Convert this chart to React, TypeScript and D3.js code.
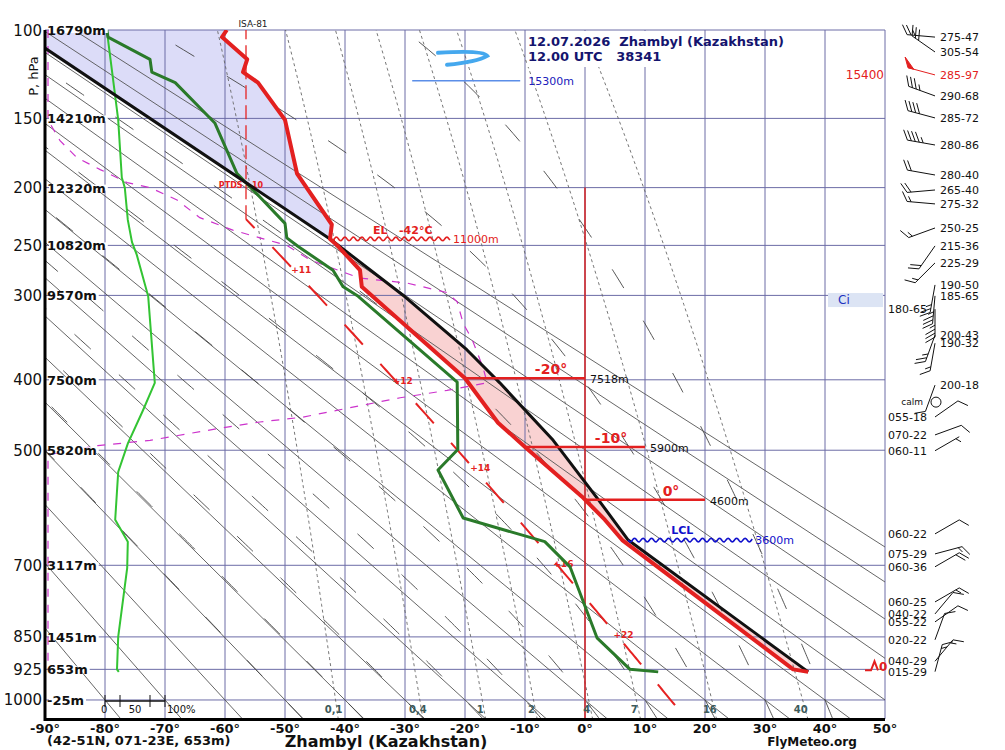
import React from "react";
import * as d3 from "d3";

const FONT = "'DejaVu Sans', Verdana, sans-serif";

// Standard pressure levels and their geopotential heights
const levelP = [100, 150, 200, 250, 300, 400, 500, 700, 850, 925, 1000];
const levelH = ["16790m", "14210m", "12320m", "10820m", "9570m", "7500m", "5820m", "3117m", "1451m", "653m", "-25m"];
const tempTicks = [-90, -80, -70, -60, -50, -40, -30, -20, -10, 0, 10, 20, 30, 40, 50];

// Air temperature, surface upwards (hPa, °C)
const tempP = [931, 925, 652, 615, 577, 495, 459, 398, 291, 274, 250, 244, 231, 189, 151, 128, 122, 115, 103.5, 100];
const tempT = [37.2, 34.7, 6.2, 3.3, -0.3, -10.0, -14.5, -20.0, -37.2, -37.5, -41.3, -42.5, -42.2, -48.0, -50.0, -54.5, -57.0, -56.3, -60.5, -59.7];

// Dew point
const dewP = [931, 925, 852, 703, 655, 612, 531, 499, 403, 301, 291, 274, 251, 243, 230, 202, 189, 153, 128, 122, 115, 103.5, 100];
const dewT = [12.2, 7.5, 2.0, -2.5, -6.7, -20.3, -24.5, -21.2, -21.3, -37.8, -40.3, -42.0, -47.8, -49.7, -50.0, -55.3, -58.0, -61.7, -68.3, -72.2, -72.5, -79.5, -79.7];

// Lifted surface parcel
const parcelP = [931, 652, 577, 485, 404, 362, 301.5, 244, 100];
const parcelT = [37.2, 7.2, 2.0, -5.3, -14.2, -19.7, -30.0, -42.5, -94.5];

// Relative humidity (%)
const rhP = [931, 925, 850, 705, 655, 615, 534, 490, 442, 404, 301, 259, 247, 227, 200, 192, 151, 136, 100];
const rhV = [23, 20, 22, 37, 38, 17, 22, 38, 63, 83, 72, 53, 45, 38, 33, 28, 22, 17, 3];

// Contrail threshold curve
const contrailP = [100, 151, 165, 177, 186, 196, 200, 210, 225, 236, 243, 250, 264, 282, 287, 297, 307, 331, 350, 384, 404, 414, 424, 437, 451, 458, 467, 485, 493, 507, 925];
const contrailT = [-89.5, -89.5, -87.5, -84.7, -80.8, -76.3, -72.5, -68.0, -64.2, -58.7, -54.2, -49.7, -45.8, -37.5, -29.7, -23.0, -21.3, -20.3, -18.8, -17.0, -16.3, -23.0, -30.8, -38.7, -47.0, -54.2, -60.8, -72.5, -81.2, -89.5, -89.5];

// Winds: pressure, direction (deg), speed (km/h)
const windP = [103.5, 111.1, 123.6, 135.9, 149.7, 168, 190.1, 201.9, 213.3, 234.1, 250.5, 266.8, 289, 300.5, 314.9, 344.6, 354.1, 407, 450.8, 476.9, 500.8, 640.6, 678, 702.9, 774.1, 799.6, 816.8, 856.5, 905.9, 930.5];
const windDir = [275, 305, 285, 290, 285, 280, 280, 265, 275, 250, 215, 225, 190, 185, 180, 200, 190, 200, 55, 70, 60, 60, 75, 60, 60, 40, 55, 20, 40, 15];
const windKmh = [47, 54, 97, 68, 72, 86, 40, 40, 32, 25, 36, 29, 50, 65, 65, 43, 32, 18, 18, 22, 11, 22, 29, 36, 25, 22, 22, 22, 29, 29];
const calmP = 430;

// Mixing-ratio lines (g/kg)
const mixW = [0.1, 0.4, 1, 2, 4, 7, 16, 40];
const mixLabels = ["0,1", "0,4", "1", "2", "4", "7", "16", "40"];

// Deviation from the standard atmosphere
const isaDevP = [273, 400, 526, 695, 843];
const isaDevText = ["+11", "+12", "+14", "+16", "+22"];

// Isotherm heights
const isoT = [-20, -10, 0];
const isoH = ["7518m", "5900m", "4600m"];

const lclH = "3600m";
const elP = 244;
const elH = "11000m";
const tropoP = 127;
const tropoT = [-28.8, -10.8];
const tropoH = "15300m";
const maxWindH = "15400";
const cloudP = 305;

const K = 0.286;
const x = d3.scaleLinear().domain([-90, 50]).range([45, 885]);
const y = d3.scalePow().exponent(K).domain([100, 1050]).range([30, 719.5]);
const rhX = d3.scaleLinear().domain([0, 100]).range([105, 165]);

const line = d3
  .line<[number, number]>()
  .x((d) => x(d[1]))
  .y((d) => y(d[0]));

const zip = (p: number[], t: number[]) => p.map((v, i) => [v, t[i]] as [number, number]);

function dTdp(p: number, T: number) {
  const es = 6.112 * Math.exp((17.67 * (T - 273.15)) / (T - 29.65));
  const rs = (0.622 * es) / (p - es);
  const num = 287.04 * T + 2.501e6 * rs;
  const den = 1005.7 + (2.501e6 * 2.501e6 * rs * 0.622) / (287.04 * T * T);
  return num / (den * p);
}

function moistAdiabat(t0: number) {
  const pts: [number, number][] = [];
  let p = 1050;
  let T = t0 + 273.15;
  // step from 1000 down to 1050 first
  let pp = 1000;
  let TT = T;
  while (pp < 1050) {
    const dp = 5;
    const k1 = dTdp(pp, TT);
    const k2 = dTdp(pp + dp, TT + k1 * dp);
    TT += ((k1 + k2) / 2) * dp;
    pp += dp;
  }
  p = 1050;
  T = TT;
  pts.push([p, T - 273.15]);
  while (p > 100) {
    const dp = -5;
    const k1 = dTdp(p, T);
    const k2 = dTdp(p + dp, T + k1 * dp);
    T += ((k1 + k2) / 2) * dp;
    p += dp;
    pts.push([p, T - 273.15]);
  }
  return pts;
}

function mixingLine(w: number) {
  const pts: [number, number][] = [];
  for (let p = 1050; p >= 100; p -= 10) {
    const e = (w * p) / (622 + w);
    const l = Math.log(e / 6.112);
    pts.push([p, (243.5 * l) / (17.67 - l)]);
  }
  return pts;
}

const isaT = (p: number) => Math.max(-56.5, 288.15 * Math.pow(p / 1013.25, 0.190263) - 273.15);

function wave(x1: number, x2: number, yc: number) {
  let d = "";
  for (let xx = x1; xx <= x2; xx += 1) {
    const yy = yc + 1.8 * Math.sin(((xx - x1) / 8.5) * 2 * Math.PI);
    d += (xx === x1 ? "M" : "L") + xx.toFixed(1) + "," + yy.toFixed(1);
  }
  return d;
}

function crossing(P: number[], T: number[], t: number) {
  for (let i = 0; i < P.length - 1; i++) {
    const a = T[i] - t;
    const b = T[i + 1] - t;
    if (a === 0) return P[i];
    if (a * b < 0) {
      const f = a / (a - b);
      const ka = Math.pow(P[i], K);
      const kb = Math.pow(P[i + 1], K);
      return Math.pow(ka + f * (kb - ka), 1 / K);
    }
  }
  return P[P.length - 1];
}

function barb(bx: number, by: number, dir: number, kmh: number) {
  const kt = Math.round(kmh / 1.852 / 5) * 5;
  const a = (dir * Math.PI) / 180;
  const dx = Math.sin(a);
  const dy = -Math.cos(a);
  const L = 28;
  const FL = 11;
  const SP = 4;
  const tx = bx + L * dx;
  const ty = by + L * dy;
  const c = Math.cos(Math.PI / 3);
  const s = Math.sin(Math.PI / 3);
  const fx = dx * c - dy * s;
  const fy = dx * s + dy * c;
  let lines = `M${bx},${by}L${tx},${ty}`;
  let flags = "";
  let rem = kt;
  let pos = 0;
  while (rem >= 50) {
    const p1x = tx - pos * dx;
    const p1y = ty - pos * dy;
    const p3x = tx - (pos + 6) * dx;
    const p3y = ty - (pos + 6) * dy;
    flags += `M${p1x},${p1y}L${p1x + fx * FL},${p1y + fy * FL}L${p3x},${p3y}Z`;
    pos += 8;
    rem -= 50;
  }
  while (rem >= 10) {
    const px = tx - pos * dx;
    const py = ty - pos * dy;
    lines += `M${px},${py}L${px + fx * FL},${py + fy * FL}`;
    pos += SP;
    rem -= 10;
  }
  if (rem >= 5) {
    if (pos === 0) pos = SP;
    const px = tx - pos * dx;
    const py = ty - pos * dy;
    lines += `M${px},${py}L${px + fx * FL * 0.55},${py + fy * FL * 0.55}`;
  }
  return { lines, flags };
}

const pad = (n: number, w: number) => String(n).padStart(w, "0");

const boldW: Record<string, number> = { "-": 0.415, m: 1.042 };
const textW = (s: string, size: number) =>
  s.split("").reduce((acc, ch) => acc + (boldW[ch] ?? 0.696), 0) * size;

export default function App() {
  const dryT0 = d3.range(-80, 91, 10);
  const moistT0 = d3.range(-50, 41, 10);

  const tempPts = zip(tempP, tempT);
  const parcelPts = zip(parcelP, parcelT);

  const pinkPoly = [
    ...parcelPts.filter((d) => d[0] >= elP),
    ...tempPts.filter((d) => d[0] >= elP).reverse(),
  ];
  const bluePoly = [
    ...parcelPts.filter((d) => d[0] <= elP),
    ...tempPts.filter((d) => d[0] <= elP).reverse(),
  ];

  const isaSlant: [number, number][] = [];
  for (let p = 1013.25; p >= 226.32; p -= 5) isaSlant.push([p, isaT(p)]);
  isaSlant.push([226.32, -56.5]);
  const isaTop: [number, number][] = [
    [226.32, -56.5],
    [100, -56.5],
  ];

  const maxIdx = windKmh.indexOf(Math.max(...windKmh));
  const lclP = parcelP[1];
  const lclX = x(parcelT[1]);

  const gridColor = "#6c6ca6";

  return (
    <svg
      width={1005}
      height={750}
      style={{ position: "absolute", left: 0, top: 0, display: "block" }}
      fontFamily={FONT}
    >
      <defs>
        <clipPath id="plot">
          <rect x={45} y={30} width={840} height={689.5} />
        </clipPath>
      </defs>
      <rect width={1005} height={750} fill="#fff" />

      <g clipPath="url(#plot)">
        <path d={line(pinkPoly) + "Z"} fill="#f9d2d2" />
        <path d={line(bluePoly) + "Z"} fill="#dcdcf8" />
      </g>

      {/* grid */}
      {tempTicks.slice(1).map((t) => (
        <line key={"v" + t} x1={x(t)} x2={x(t)} y1={30} y2={719} stroke={gridColor} strokeWidth={1} />
      ))}
      {levelP.map((p) => (
        <line key={"h" + p} x1={45} x2={885} y1={y(p)} y2={y(p)} stroke={gridColor} strokeWidth={1} />
      ))}

      <g clipPath="url(#plot)">
        {/* dry adiabats */}
        {dryT0.map((t0) => {
          const th = t0 + 273.15;
          const pts: [number, number][] = [100, 1050].map((p) => [p, th * Math.pow(p / 1000, K) - 273.15]);
          return <path key={"d" + t0} d={line(pts) || ""} stroke="#555" strokeWidth={0.9} fill="none" />;
        })}
        {/* saturated adiabats */}
        {moistT0.map((t0) => (
          <path
            key={"m" + t0}
            d={line(moistAdiabat(t0)) || ""}
            stroke="#444"
            strokeWidth={0.9}
            fill="none"
            strokeDasharray="22,38"
          />
        ))}
        {/* mixing ratio */}
        {mixW.map((w) => (
          <path
            key={"w" + w}
            d={line(mixingLine(w)) || ""}
            stroke="#666"
            strokeWidth={0.9}
            fill="none"
            strokeDasharray="3,3"
          />
        ))}

        {/* standard atmosphere */}
        <path d={line(isaSlant) || ""} stroke="#e52222" strokeWidth={2} fill="none" strokeDasharray="27,26" />
        <path d={line(isaTop) || ""} stroke="#e52222" strokeWidth={1.3} fill="none" strokeDasharray="14,6" />

        {/* contrail curve */}
        <path
          d={line(zip(contrailP, contrailT)) || ""}
          stroke="#cc33cc"
          strokeWidth={1.2}
          fill="none"
          strokeDasharray="8,8"
        />
      </g>

      {isaDevP.map((p, i) => (
        <text key={"isa" + i} x={x(isaT(p)) - 2} y={y(p) + 4} fontSize={9} fontWeight="bold" fill="#e52222">
          {isaDevText[i]}
        </text>
      ))}
      <text x={241} y={188} fontSize={8} fontWeight="bold" fill="#e52222" textAnchor="middle" style={{ whiteSpace: "pre" }}>
        PTDS +10
      </text>
      <text x={253} y={27} fontSize={9} fill="#222" textAnchor="middle">
        ISA-81
      </text>

      {/* 0°C line */}
      <line x1={x(0)} x2={x(0)} y1={y(200)} y2={719} stroke="#d42020" strokeWidth={1.5} />

      {/* relative humidity */}
      <path
        d={d3.line<number>().x((_, i) => rhX(rhV[i])).y((p) => y(p))(rhP) || ""}
        stroke="#33c433"
        strokeWidth={2}
        fill="none"
      />

      <g clipPath="url(#plot)">
        <path d={line(zip(dewP, dewT)) || ""} stroke="#2a7a2a" strokeWidth={3} fill="none" strokeLinejoin="round" />
        <path d={line(parcelPts) || ""} stroke="#111" strokeWidth={3} fill="none" strokeLinejoin="round" />
        <path d={line(tempPts) || ""} stroke="#e32020" strokeWidth={4} fill="none" strokeLinejoin="round" />
      </g>

      {/* isotherm heights */}
      {isoT.map((t, i) => {
        const py = y(crossing(tempP, tempT, t));
        return (
          <g key={"iso" + t}>
            <line x1={x(t)} x2={x(t + 20)} y1={py} y2={py} stroke="#e32020" strokeWidth={2.5} />
            <text x={x(t + 20) - 34} y={py - 4} fontSize={14} fontWeight="bold" fill="#e32020" textAnchor="middle">
              {t + "°"}
            </text>
            <text x={x(t + 20) + 5} y={py + 5} fontSize={11} fill="#111">
              {isoH[i]}
            </text>
          </g>
        );
      })}

      {/* LCL */}
      <path d={wave(lclX, lclX + 124, y(lclP))} stroke="#1010cc" strokeWidth={1.6} fill="none" />
      <text x={lclX + 54} y={y(lclP) - 6} fontSize={11} fontWeight="bold" fill="#1010cc" textAnchor="middle">
        LCL
      </text>
      <text x={lclX + 127} y={y(lclP) + 4} fontSize={11} fill="#1010cc">
        {lclH}
      </text>

      {/* equilibrium level */}
      <path d={wave(x(-42.5), x(-22.5), y(elP))} stroke="#e32020" strokeWidth={1.6} fill="none" />
      <text x={x(-42.5) + 43} y={y(elP) - 5} fontSize={11} fontWeight="bold" fill="#e32020" style={{ whiteSpace: "pre" }}>
        {"EL   -42°C"}
      </text>
      <text x={x(-22.5) + 3} y={y(elP) + 4} fontSize={11} fill="#e32020">
        {elH}
      </text>

      {/* tropopause / jet */}
      <line x1={x(tropoT[0])} x2={x(tropoT[1])} y1={y(tropoP)} y2={y(tropoP)} stroke="#5b8ee8" strokeWidth={1.5} />
      <text x={x(tropoT[1]) + 8} y={y(tropoP) + 4} fontSize={11} fill="#2020bb">
        {tropoH}
      </text>
      <path
        d={`M${x(-24.5)},${y(tropoP) - 28} Q${x(-17)},${y(tropoP) - 31} ${x(-16.3)},${y(tropoP) - 25} Q${x(-18)},${y(tropoP) - 19} ${x(-23)},${y(tropoP) - 16}`}
        stroke="#45a8ee"
        strokeWidth={4}
        fill="none"
        strokeLinecap="round"
      />

      {/* cloud */}
      <rect x={x(40.5)} y={y(cloudP) - 7} width={55} height={14} fill="#dce4f4" />
      <text x={x(40.5) + 10} y={y(cloudP) + 4} fontSize={12} fill="#2030c0">
        Ci
      </text>

      {/* title */}
      <rect x={527} y={31} width={130} height={36} fill="#fff" />
      <text x={528} y={46} fontSize={13} fontWeight="bold" fill="#14146e" style={{ whiteSpace: "pre" }}>
        {"12.07.2026  Zhambyl (Kazakhstan)"}
      </text>
      <text x={528} y={61} fontSize={13} fontWeight="bold" fill="#14146e" style={{ whiteSpace: "pre" }}>
        {"12.00 UTC   38341"}
      </text>

      {/* mixing ratio labels */}
      {mixW.map((w, i) => {
        const e = (w * 1000) / (622 + w);
        const l = Math.log(e / 6.112);
        return (
          <text key={"ml" + w} x={x((243.5 * l) / (17.67 - l)) - 2} y={713} fontSize={10} fontWeight="bold" fill="#3d5a5a" textAnchor="middle">
            {mixLabels[i]}
          </text>
        );
      })}

      {/* RH scale */}
      <line x1={rhX(0)} x2={rhX(100)} y1={701} y2={701} stroke="#111" strokeWidth={1.5} />
      {[0, 25, 75, 100].map((v) => (
        <line key={"rt" + v} x1={rhX(v)} x2={rhX(v)} y1={695} y2={707} stroke="#111" strokeWidth={1} />
      ))}
      <text x={rhX(0) - 4} y={713} fontSize={10} fill="#111">0</text>
      <text x={rhX(50)} y={713} fontSize={10} fill="#111" textAnchor="middle">50</text>
      <text x={rhX(100) + 2} y={713} fontSize={10} fill="#111">100%</text>

      {/* axes */}
      <line x1={45} x2={45} y1={30} y2={721} stroke="#000" strokeWidth={3} />
      <line x1={44} x2={885} y1={719.5} y2={719.5} stroke="#000" strokeWidth={3} />

      {levelP.map((p, i) => (
        <g key={"lab" + p}>
          <rect x={49} y={y(p) - 3} width={textW(levelH[i], 13)} height={6} fill="#fff" />
          <text x={42} y={y(p) + 5.5} fontSize={15} fill="#111" textAnchor="end">
            {p}
          </text>
          <text x={47} y={y(p) + 5} fontSize={13} fontWeight="bold" fill="#111">
            {levelH[i]}
          </text>
        </g>
      ))}
      <text transform="translate(38,76) rotate(-90)" fontSize={13} fill="#111" textAnchor="middle">
        P, hPa
      </text>

      {tempTicks.map((t) => (
        <text key={"tt" + t} x={x(t)} y={733} fontSize={13} fontWeight="bold" fill="#111" textAnchor="middle">
          {t + "°"}
        </text>
      ))}
      <text x={47} y={745} fontSize={13} fontWeight="bold" fill="#111">
        (42-51N, 071-23E, 653m)
      </text>
      <text x={386} y={747} fontSize={16} fontWeight="bold" fill="#111" textAnchor="middle">
        Zhambyl (Kazakhstan)
      </text>
      <text x={812} y={746} fontSize={12} fontWeight="bold" fill="#111" textAnchor="middle">
        FlyMeteo.org
      </text>

      {/* winds */}
      {windP.map((p, i) => {
        const by = y(p);
        const { lines, flags } = barb(935, by, windDir[i], windKmh[i]);
        const col = i === maxIdx ? "#e32020" : "#111";
        const left = windDir[i] <= 180;
        return (
          <g key={"w" + i}>
            <path d={lines} stroke={col} strokeWidth={1} fill="none" />
            {flags && <path d={flags} fill={col} stroke={col} strokeWidth={1} />}
            <text
              x={left ? 927 : 940}
              y={by + 4}
              fontSize={11}
              fill={col}
              textAnchor={left ? "end" : "start"}
            >
              {pad(windDir[i], 3) + "-" + pad(windKmh[i], 2)}
            </text>
          </g>
        );
      })}
      <circle cx={936} cy={y(calmP)} r={5} fill="none" stroke="#111" strokeWidth={1} />
      <text x={923} y={y(calmP) + 3} fontSize={9} fill="#111" textAnchor="end">
        calm
      </text>
      <text x={884} y={y(windP[maxIdx]) + 4} fontSize={12} fill="#e32020" textAnchor="end">
        {maxWindH}
      </text>

      {/* surface mark */}
      <path
        d={`M865,${y(925) + 1} H871 L874.5,${y(925) - 8} L878,${y(925) + 1}`}
        stroke="#e32020"
        strokeWidth={2}
        fill="none"
      />
      <text x={879} y={y(925) + 2} fontSize={12} fontWeight="bold" fill="#e32020">
        0
      </text>
    </svg>
  );
}
